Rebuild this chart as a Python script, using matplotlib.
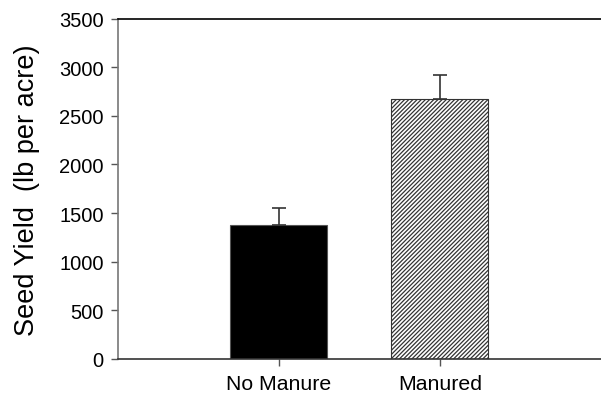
import matplotlib
matplotlib.use("Agg")
import matplotlib.pyplot as plt
import numpy as np

plt.rcParams['font.family'] = ['Liberation Sans', 'DejaVu Sans']
plt.rcParams['hatch.linewidth'] = 0.9

categories = ['No Manure', 'Manured']
yields = [1375, 2670]
errors = [177, 245]
yticks = [0, 500, 1000, 1500, 2000, 2500, 3000, 3500]

fig = plt.figure(figsize=(6.01, 4.02), dpi=100)
ax = fig.add_axes([117.5 / 601, 42 / 402, (601 - 117.5) / 601, (360 - 19.5) / 402])

x = np.arange(1, len(categories) + 1)
ax.bar(x[0], yields[0], width=0.6, color='black', edgecolor='#555555', linewidth=0.8, zorder=2)
ax.bar(x[1], yields[1], width=0.6, color='white', edgecolor='#333333', hatch='////////', linewidth=0.8, zorder=2)
ax.errorbar(x, yields, yerr=[[0, 0], errors], fmt='none', ecolor='#333333',
            elinewidth=1.2, capsize=5, capthick=1.2, zorder=3)

ax.set_xlim(0, 3)
ax.set_ylim(0, 3500)
ax.set_xticks(x)
ax.set_xticklabels(categories, fontsize=15.3)
ax.set_yticks(yticks)
ax.set_yticklabels([str(v) for v in yticks], fontsize=14.5)
ax.tick_params(axis='both', direction='out', length=5, width=1, color='#555555', pad=5)
ax.tick_params(axis='x', pad=6)

ax.spines['right'].set_visible(False)
ax.spines['top'].set_color('black')
ax.spines['top'].set_linewidth(1.2)
ax.spines['left'].set_color('#777777')
ax.spines['left'].set_linewidth(1.2)
ax.spines['bottom'].set_color('#333333')
ax.spines['bottom'].set_linewidth(1.2)

ax.set_ylabel('Seed Yield  (lb per acre)', fontsize=19.5, labelpad=14)

fig.savefig('out.png', dpi=100)
